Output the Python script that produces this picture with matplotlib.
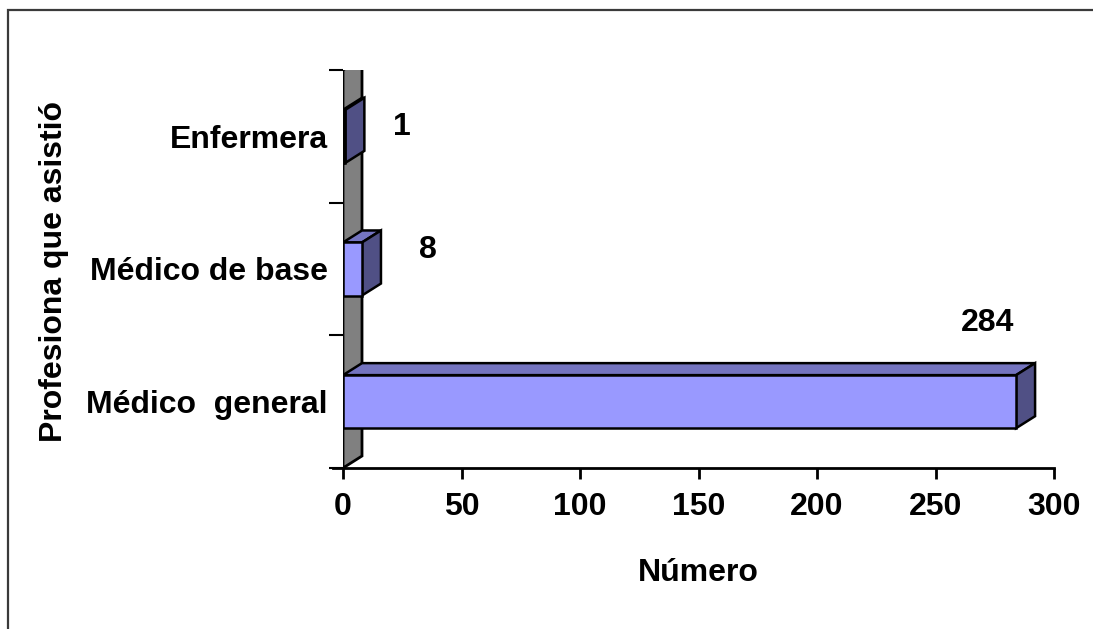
import matplotlib
matplotlib.use("Agg")
import matplotlib.pyplot as plt
from matplotlib.patches import Polygon, Rectangle

# datos
categorias = ["Médico  general", "Médico de base", "Enfermera"]
valores = [284, 8, 1]
xticks = [0, 50, 100, 150, 200, 250, 300]

# posiciones de las etiquetas de valor (x en unidades, y relativo a la categoría)
etiqueta_x = [272, 36, 25]
etiqueta_dy = [0.59, 0.14, 0.07]

W, H = 1093, 629
FS = 23
plt.rcParams['font.family'] = ['Liberation Sans', 'DejaVu Sans']
plt.rcParams['font.weight'] = 'bold'

fig = plt.figure(figsize=(W / 100, H / 100), dpi=100)
fig.patch.set_facecolor('white')

# marco exterior
fig.patches.append(Rectangle((7.5 / W, -0.1), 1.2, 1.1 - 10 / H,
                             transform=fig.transFigure, fill=False,
                             edgecolor='#3a3a3a', linewidth=1.6))

ax = fig.add_axes([343 / W, 1 - 468 / H, 711 / W, 398 / H])
ax.set_xlim(0, 300)
ax.set_ylim(-0.5, 2.5)
for s in ax.spines.values():
    s.set_visible(False)
ax.patch.set_visible(False)

# profundidad 3d (en unidades de datos)
dx = 19 / (711 / 300)
dy = 12 / (398 / 3)
alto = 0.40

# pared gris
pared = Polygon([(0, -0.5), (0, 2.5), (dx, 2.5 + dy), (dx, -0.5 + dy)],
                closed=True, facecolor='#808080', edgecolor='black',
                linewidth=2, zorder=1)
ax.add_patch(pared)

# eje x
ax.plot([-4.2, 300], [-0.5, -0.5], color='black', lw=2, clip_on=False, zorder=3)
ax.set_xticks(xticks)
ax.set_xticklabels([str(t) for t in xticks], fontsize=FS, fontweight='bold')
ax.tick_params(axis='x', length=8, width=2, direction='out', pad=9)

# eje y: marcas en los límites, etiquetas en el centro
pos = list(range(len(categorias)))
ax.set_yticks(pos)
ax.set_yticklabels(categorias, fontsize=FS, fontweight='bold')
ax.tick_params(axis='y', length=0, pad=11)
ax.set_yticks([p - 0.5 for p in pos] + [pos[-1] + 0.5], minor=True)
ax.tick_params(axis='y', which='minor', length=10, width=1.5, direction='out')

# barras
ax.barh(pos, valores, height=alto, color='#9999FF', edgecolor='black',
        linewidth=1.8, zorder=4)
for p, v in zip(pos, valores):
    arriba = p + alto / 2
    abajo = p - alto / 2
    techo = Polygon([(0, arriba), (v, arriba), (v + dx, arriba + dy), (dx, arriba + dy)],
                    closed=True, facecolor='#7474C0', edgecolor='black',
                    linewidth=1.8, zorder=3)
    lado = Polygon([(v, abajo), (v, arriba), (v + dx, arriba + dy), (v + dx, abajo + dy)],
                   closed=True, facecolor='#505085', edgecolor='black',
                   linewidth=1.8, zorder=3.5)
    ax.add_patch(techo)
    ax.add_patch(lado)

for p, v, lx, ly in zip(pos, valores, etiqueta_x, etiqueta_dy):
    ax.text(lx, p + ly, str(v), ha='center', va='center', fontsize=FS,
            fontweight='bold', zorder=6)

ax.set_xlabel("Número", fontsize=FS, fontweight='bold', labelpad=26)
fig.text(54 / W, 1 - 272 / H, "Profesiona que asistió", rotation=90,
         ha='center', va='center', fontsize=FS, fontweight='bold')

fig.savefig("out.png", dpi=100)
